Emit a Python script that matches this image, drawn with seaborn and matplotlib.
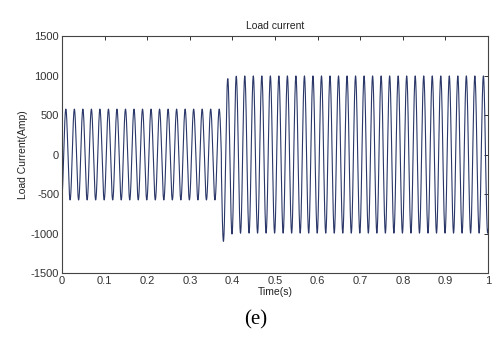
import numpy as np
import pandas as pd
import matplotlib
matplotlib.use("Agg")
import matplotlib.pyplot as plt
import seaborn as sns

# Signal parameters
freq_hz = 50                # 5 cycles per 0.1 s
first_peak_s = 0.009        # first positive peak
step_time_s = 0.374         # load change instant
amp_before = 575            # peak current before the step (A)
amp_after = 995             # peak current after the step (A)
dc_offset_after = -180      # transient offset right after the step (A)
dc_decay_s = 0.009          # decay time of that offset

x_ticks = [0, 0.1, 0.2, 0.3, 0.4, 0.5, 0.6, 0.7, 0.8, 0.9, 1]
x_tick_labels = ["0", "0.1", "0.2", "0.3", "0.4", "0.5", "0.6", "0.7", "0.8", "0.9", "1"]
y_ticks = [-1500, -1000, -500, 0, 500, 1000, 1500]

# Build the waveform from the parameters
t = np.linspace(0, 1, 20001)
wave = np.cos(2 * np.pi * freq_hz * (t - first_peak_s))
after = t >= step_time_s
current = np.where(after, amp_after * wave, amp_before * wave)
current = current + np.where(after, dc_offset_after * np.exp(-(t - step_time_s) / dc_decay_s), 0)
df = pd.DataFrame({"Time": t, "Current": current})

sns.set_style("white")
plt.rcParams["font.family"] = ["Liberation Sans", "DejaVu Sans"]
plt.rcParams["axes.unicode_minus"] = False

fig = plt.figure(figsize=(4.92, 3.40), dpi=100)
ax = fig.add_axes([0.126, 0.197, 0.866, 0.697])
sns.lineplot(data=df, x="Time", y="Current", ax=ax, color="#2a3768",
             linewidth=0.8, estimator=None, errorbar=None)

ax.set_xlim(0, 1)
ax.set_ylim(-1500, 1500)
ax.set_xticks(x_ticks)
ax.set_xticklabels(x_tick_labels)
ax.set_yticks(y_ticks)
ax.tick_params(direction="in", length=3, width=0.7, labelsize=8, colors="#333333",
               top=True, right=True, pad=2)
for s in ax.spines.values():
    s.set_color("#444444")
    s.set_linewidth(0.8)

ax.set_title("Load current", fontsize=7.5, color="#222222", pad=5)
ax.set_xlabel("Time(s)", fontsize=7.5, color="#222222", labelpad=1)
ax.set_ylabel("Load Current(Amp)", fontsize=7.5, color="#222222", labelpad=2)

fig.text(0.52, 0.058, "(e)", ha="center", va="center", fontsize=15,
         family="Liberation Serif", color="black")

fig.savefig("out.png", dpi=100)
